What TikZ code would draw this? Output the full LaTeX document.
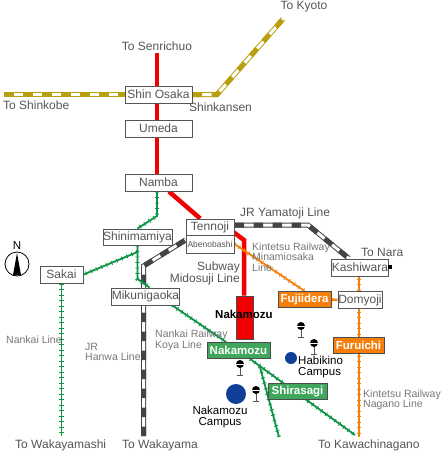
\documentclass[tikz,border=0pt]{standalone}
\usepackage{fontspec}
\setmainfont{Liberation Sans}
\usetikzlibrary{calc,backgrounds}
\definecolor{subway}{HTML}{F00000}
\definecolor{nankai}{HTML}{0B9444}
\definecolor{nankaibox}{HTML}{3FA65C}
\definecolor{kintetsu}{HTML}{F57F0A}
\definecolor{shinkansen}{HTML}{B89F10}
\definecolor{jrline}{HTML}{444444}
\definecolor{campus}{HTML}{0F3F99}
\definecolor{labeltext}{HTML}{555555}
\definecolor{notetext}{HTML}{777777}
\begin{document}
\begin{tikzpicture}[x=1pt,y=-1pt,
  lbl/.style={text=labeltext,inner sep=0pt,font=\fontsize{12}{12}\selectfont,align=left},
  note/.style={text=notetext,inner sep=0pt,font=\fontsize{10.5}{10.5}\selectfont,align=left},
  black label/.style={text=black,inner sep=0pt,font=\fontsize{11.5}{10.5}\selectfont},
  stationbox/.style={draw=labeltext,line width=1pt,fill=white,text=labeltext,inner sep=0pt,font=\fontsize{12}{12}\selectfont,minimum width=#1,minimum height=17pt},
  colorbox/.style 2 args={draw=black!70,line width=1pt,fill=#1,text=white,inner sep=0pt,font=\bfseries\fontsize{11.5}{12}\selectfont,minimum width=#2,minimum height=16pt},
  tickline/.style={draw=#1,line width=1.8pt,postaction={draw=#1,line width=4.2pt,dash pattern=on 0.8pt off 4.7pt}},
  railway/.style={draw=#1,line width=5pt,postaction={draw=white,line width=3pt},postaction={draw=#1,line width=5pt,dash pattern=on 9.5pt off 9.5pt}},
  redline/.style={draw=subway,line width=4.5pt}]
\useasboundingbox (0,0) rectangle (441,451);
% stations
\node[stationbox=67pt] (shinosaka) at (158.5,94.5){Shin Osaka};
\node[stationbox=67pt] (umeda) at (158.5,128.5){Umeda};
\node[stationbox=67pt] (namba) at (158.5,182.5){Namba};
\node[stationbox=48pt,minimum height=16pt] (tennoji) at (210,227){Tennoji};
\node[stationbox=48pt,minimum height=18pt,font=\fontsize{8.5}{9}\selectfont] (abenobashi) at (210,244){Abenobashi};
\node[stationbox=69pt,minimum height=16pt] (shinimamiya) at (137.5,237){Shinimamiya};
\node[stationbox=43pt] (sakai) at (61.5,274.5){Sakai};
\node[stationbox=67pt] (mikunigaoka) at (145.5,296.5){Mikunigaoka};
\node[stationbox=56pt] (kashiwara) at (360,267.5){Kashiwara};
\node[stationbox=44pt] (domyoji) at (360,300){Domyoji};
\node[colorbox={kintetsu}{53pt}] (fujiidera) at (304.5,299.5){Fujiidera};
\node[colorbox={kintetsu}{51pt}] (furuichi) at (358.5,345.5){Furuichi};
\node[colorbox={nankaibox}{63pt}] (nakamozu) at (238.5,350.5){Nakamozu};
\node[colorbox={nankaibox}{59pt}] (shirasagi) at (297.5,391.5){Shirasagi};
\node[draw=black!70,line width=1pt,fill=subway,minimum width=17pt,minimum height=43pt,inner sep=0pt] (subwaybox) at (244.5,317.5){};
\node[black label,font=\bfseries\fontsize{11.5}{12}\selectfont] (subwaylabel) at (244,314){Nakamozu};
% free ends and bends
\coordinate (senrichuo) at (157,53);
\coordinate (shinkobe) at (4,94.5);
\coordinate (kyoto) at (283,19);
\coordinate (shinbend) at (217,94.5);
\coordinate (tennojired) at (232,231);
\coordinate (redbend) at (244,240);
\coordinate (yamatojibend) at (308,225);
\coordinate (wakayama) at (143.5,436);
\coordinate (hanwabend) at (143.5,266);
\coordinate (wakayamashi) at (61.5,436);
\coordinate (nankaibend) at (157,216);
\coordinate (koyajoint) at (137.5,252);
\coordinate (koyabend) at (137.5,279);
\coordinate (koyafork) at (260,367);
\coordinate (forkend) at (279,437);
\coordinate (kawachinagano) at (355,435);
\coordinate (naganoend) at (359,437);
% lines
\begin{pgfonlayer}{background}
\draw[railway=shinkansen] (shinkobe) -- (shinosaka);
\draw[railway=shinkansen] (shinosaka) -- (shinbend) -- (kyoto);
\draw[redline] (senrichuo) -- (senrichuo |- shinosaka) -- (senrichuo |- umeda) -- (senrichuo |- namba);
\draw[redline] (namba) -- (tennoji);
\draw[redline] (tennojired) -- (redbend) -- (redbend |- subwaybox.north);
\draw[railway=jrline] (yamatojibend -| tennoji.east) -- (yamatojibend) -- (kashiwara);
\draw[railway=jrline] (wakayama) -- (hanwabend) -- ($(abenobashi.west)+(0,-4)$);
\draw[tickline=nankai] (nankaibend |- namba.south) -- (nankaibend) -- (shinimamiya.north);
\draw[tickline=nankai] (shinimamiya.south) -- (koyabend) -- ($(mikunigaoka.north)+(4,0)$);
\draw[tickline=nankai] (koyajoint) -- (sakai.east);
\draw[tickline=nankai] (sakai) -- (wakayamashi);
\draw[tickline=nankai] ($(mikunigaoka.south)+(27,0)$) -- (nakamozu) -- ($(shirasagi)+(0,2)$) -- (kawachinagano);
\draw[tickline=nankai] (koyafork) -- (forkend);
\draw[tickline=kintetsu] (naganoend |- kashiwara) -- (naganoend |- domyoji) -- (naganoend |- furuichi) -- (naganoend);
\draw[tickline=kintetsu] (abenobashi.east) -- (fujiidera.north);
\draw[draw=kintetsu,line width=2.5pt] (fujiidera.east) -- (domyoji.west);
\end{pgfonlayer}
% little square beside Kashiwara
\node[fill=black,minimum size=4pt,inner sep=0pt] (kashiwaramark) at (389.5,267){};
% campuses and pins
\node[circle,fill=campus,minimum size=20pt,inner sep=0pt] (bigcampus) at (236,394){};
\node[circle,fill=campus,minimum size=12pt,inner sep=0pt] (smallcampus) at (291,358){};
\foreach \px/\py in {301/326,314/343,240/364,256/390}{
  \draw[labeltext,line width=1pt] (\px,\py) -- (\px,\py+11) (\px-3,\py+11) -- (\px+3,\py+11);
  \fill[black] (\px,\py) circle (4);
  \draw[white,line width=0.8pt] (\px-4,\py) -- (\px+4,\py);
}
% compass
\node[black label] (northlabel) at (17,246){N};
\draw[black,fill=white,line width=0.8pt] (17,264) circle (12);
\fill[black] (17,253) -- (21,275) -- (13,275) -- cycle;
% labels
\node[lbl] (kyotolabel) at (304,7){To Kyoto};
\node[lbl] (senrilabel) at (157,46){To Senrichuo};
\node[lbl,anchor=west] (shinkobelabel) at (3,105){To Shinkobe};
\node[lbl,anchor=west] (shinkansenlabel) at (189,107){Shinkansen};
\node[lbl,anchor=west] (yamatojilabel) at (240,213){JR Yamatoji Line};
\node[lbl,anchor=west] (naralabel) at (361,252){To Nara};
\node[lbl,align=right,anchor=east] (midosujilabel) at (240,273.5){Subway\\[-0.5pt]Midosuji Line};
\node[note,anchor=west] (minamilabel) at (252,257){Kintetsu Railway\\Minamiosaka\\Line};
\node[note,anchor=west] (koyalabel) at (155,340.5){Nankai Railway\\Koya Line};
\node[note,anchor=west] (hanwalabel) at (85,352){JR\\Hanwa Line};
\node[note,anchor=west] (nankailabel) at (6,340){Nankai Line};
\node[note,anchor=west] (naganolabel) at (363,400){Kintetsu Railway\\Nagano Line};
\node[lbl,anchor=west] (wakayamashilabel) at (15,445){To Wakayamashi};
\node[lbl,anchor=west] (wakayamalabel) at (122,445){To Wakayama};
\node[lbl,anchor=west] (kawachilabel) at (318,445){To Kawachinagano};
\node[black label,align=left,anchor=west] (habikinolabel) at (298,367){Habikino\\Campus};
\node[black label,align=center] (campuslabel) at (220,417){Nakamozu\\Campus};
\end{tikzpicture}
\end{document}
